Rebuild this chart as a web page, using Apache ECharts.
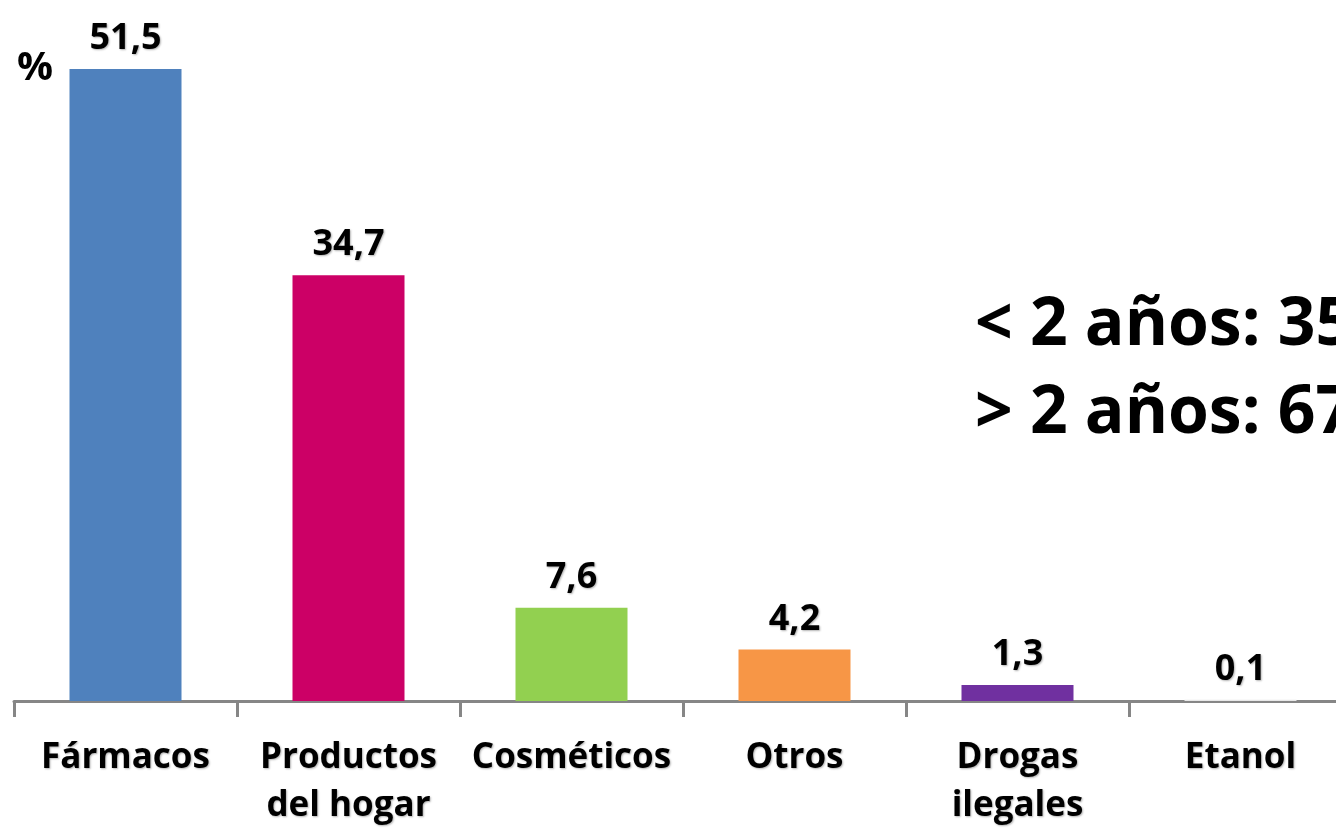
<!DOCTYPE html>
<html>
<head>
<meta charset="utf-8">
<script src="https://cdn.jsdelivr.net/npm/echarts@6/dist/echarts.min.js"></script>
<style>
html,body{margin:0;padding:0;background:#fff;overflow:hidden;}
#chart{width:1336px;height:831px;}
</style>
</head>
<body>
<div id="chart"></div>
<script>
const categories = ['Fármacos', 'Productos\ndel hogar', 'Cosméticos', 'Otros', 'Drogas\nilegales', 'Etanol'];
const values = [51.5, 34.7, 7.6, 4.2, 1.3, 0.1];
const barColors = ['#4F81BD', '#CC0066', '#92D050', '#F79646', '#7030A0', '#E8E8E8'];
const noteLines = ['< 2 años: 35', '> 2 años: 67'];
const unitLabel = '%';

const FONT = '"Open Sans", Lato, sans-serif';
const chart = echarts.init(document.getElementById('chart'), null, {renderer: 'canvas'});
chart.setOption({
  animation: false,
  backgroundColor: '#ffffff',
  grid: {left: 14, right: -16, top: 26, bottom: 130, containLabel: false, outerBoundsMode: 'none'},
  xAxis: {
    type: 'category',
    data: categories,
    boundaryGap: true,
    axisLine: {lineStyle: {color: '#868686', width: 3}},
    axisTick: {show: true, length: 16, lineStyle: {color: '#868686', width: 3}},
    axisLabel: {
      interval: 0,
      margin: 33,
      fontFamily: FONT,
      fontWeight: 'bold',
      fontSize: 35,
      lineHeight: 48,
      color: '#000',
      textShadowColor: 'rgba(0,0,0,0.3)',
      textShadowBlur: 2,
      textShadowOffsetX: 1,
      textShadowOffsetY: 1
    }
  },
  yAxis: {
    type: 'value', min: 0, max: 55,
    show: false,
    splitLine: {show: false}
  },
  series: [{
    type: 'bar',
    barWidth: 112,
    data: values.map((v, i) => ({value: v, itemStyle: {color: barColors[i]}})),
    label: {
      show: true,
      position: 'top',
      distance: 12,
      fontFamily: FONT,
      fontWeight: 'bold',
      fontSize: 36,
      color: '#000',
      textShadowColor: 'rgba(0,0,0,0.3)',
      textShadowBlur: 2,
      textShadowOffsetX: 1,
      textShadowOffsetY: 1,
      formatter: p => String(p.value).replace('.', ',')
    }
  }],
  graphic: [
    {type: 'text', x: 17, y: 69, style: {text: unitLabel, font: 'bold 40px ' + FONT, fill: '#000', verticalAlign: 'middle'}},
    {type: 'text', x: 975, y: 326, style: {text: noteLines[0], font: 'bold 66px ' + FONT, fill: '#000', verticalAlign: 'middle'}},
    {type: 'text', x: 975, y: 414, style: {text: noteLines[1], font: 'bold 66px ' + FONT, fill: '#000', verticalAlign: 'middle'}}
  ]
});
</script>
</body>
</html>
